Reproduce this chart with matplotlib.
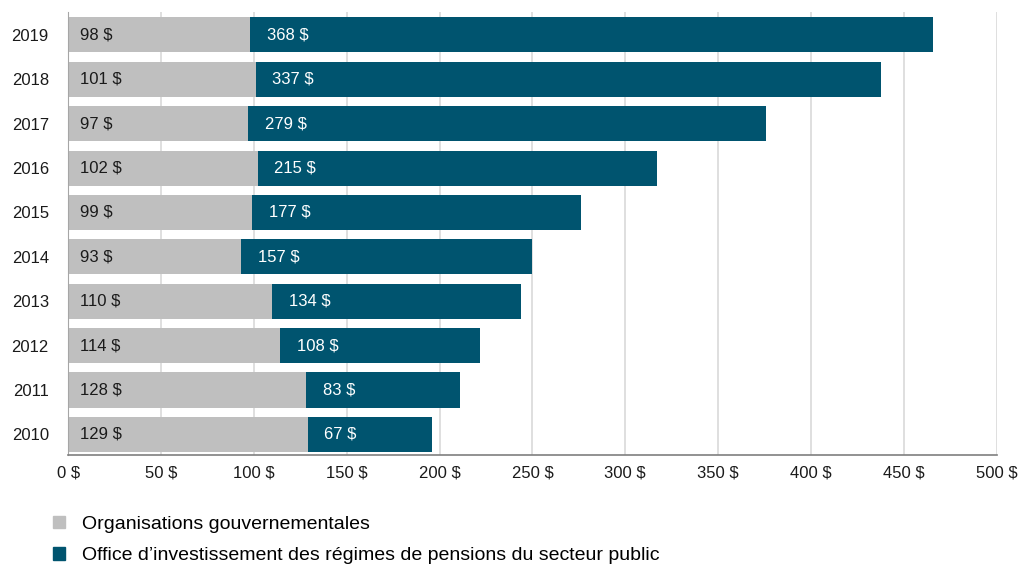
import matplotlib.pyplot as plt
from matplotlib.patches import Patch
from matplotlib import font_manager

years = ['2010', '2011', '2012', '2013', '2014', '2015', '2016', '2017', '2018', '2019']
gov_orgs = [129, 128, 114, 110, 93, 99, 102, 97, 101, 98]
pension_board = [67, 83, 108, 134, 157, 177, 215, 279, 337, 368]
x_ticks = [0, 50, 100, 150, 200, 250, 300, 350, 400, 450, 500]

GRAY = '#BFBFBF'
BLUE = '#00546F'

names = {f.name for f in font_manager.fontManager.ttflist}
family = 'Liberation Sans Narrow' if 'Liberation Sans Narrow' in names else 'Liberation Sans'
plt.rcParams['font.family'] = [family, 'DejaVu Sans']
plt.rcParams['font.size'] = 12


def main():
    fig = plt.figure(figsize=(10.18, 5.65), dpi=100)
    ax = fig.add_axes([0.067, 0.195, 0.912, 0.784])

    ypos = range(len(years))
    ax.barh(ypos, gov_orgs, height=0.79, color=GRAY, zorder=2)
    ax.barh(ypos, pension_board, left=gov_orgs, height=0.79, color=BLUE, zorder=2)

    # value labels at the start of each segment
    for y, g, p in zip(ypos, gov_orgs, pension_board):
        ax.text(6.5, y, f'{g} $', va='center', ha='left', color='#1a1a1a', zorder=3)
        ax.text(g + 9, y, f'{p} $', va='center', ha='left', color='white', zorder=3)

    ax.set_yticks(list(ypos))
    ax.set_yticklabels(years)
    ax.set_xticks(x_ticks)
    ax.set_xticklabels([f'{v} $' for v in x_ticks])
    ax.set_xlim(0, 500)
    ax.set_ylim(-0.46, 9.52)
    ax.tick_params(length=0, pad=8, colors='#1a1a1a')
    ax.tick_params(axis='y', pad=14)

    ax.grid(axis='x', color='#D9D9D9', linewidth=1.2, zorder=0)
    for s in ['top', 'right']:
        ax.spines[s].set_visible(False)
    ax.spines['left'].set_color('#A6A6A6')
    ax.spines['bottom'].set_color('#7F7F7F')
    ax.spines['bottom'].set_linewidth(1.2)

    handles = [Patch(color=GRAY, label='Organisations gouvernementales'),
               Patch(color=BLUE, label='Office d\u2019investissement des régimes de pensions du secteur public')]
    fig.legend(handles=handles, loc='lower left', bbox_to_anchor=(0.035, -0.03),
               frameon=False, fontsize=14, handlelength=0.6, handleheight=0.6,
               handletextpad=0.9, labelspacing=0.75)

    fig.savefig('out.png', dpi=100)


if __name__ == '__main__':
    main()
